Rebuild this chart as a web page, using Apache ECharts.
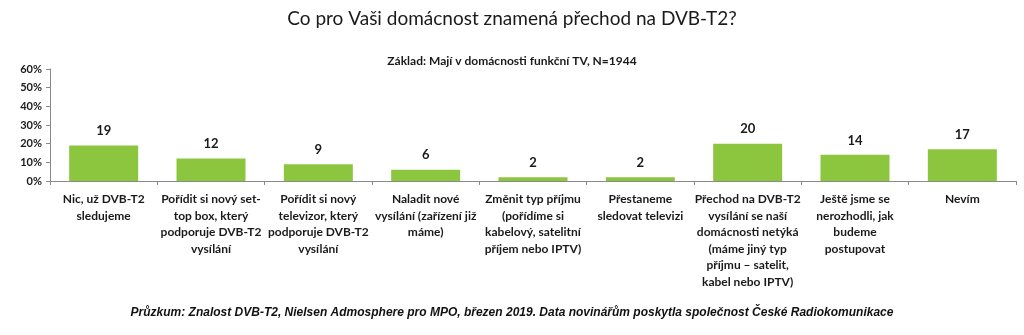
<!DOCTYPE html>
<html><head><meta charset="utf-8">
<script src="https://cdn.jsdelivr.net/npm/echarts@6/dist/echarts.min.js"></script>
<style>html,body{margin:0;padding:0;background:#fff}#c{width:1024px;height:335px}</style>
</head><body><div id="c"></div>
<script>
const titleText = 'Co pro Vaši domácnost znamená přechod na DVB-T2?';
const subtitleText = 'Základ: Mají v domácnosti funkční TV, N=1944';
const footerText = 'Průzkum: Znalost DVB-T2, Nielsen Admosphere pro MPO, březen 2019. Data novinářům poskytla společnost České Radiokomunikace';
const categories = [
  'Nic, už DVB-T2\nsledujeme',
  'Pořídit si nový set-\ntop box, který\npodporuje DVB-T2\nvysílání',
  'Pořídit si nový\ntelevizor, který\npodporuje DVB-T2\nvysílání',
  'Naladit nové\nvysílání (zařízení již\nmáme)',
  'Změnit typ příjmu\n(pořídíme si\nkabelový, satelitní\npříjem nebo IPTV)',
  'Přestaneme\nsledovat televizi',
  'Přechod na DVB-T2\nvysílání se naší\ndomácnosti netýká\n(máme jiný typ\npříjmu – satelit,\nkabel nebo IPTV)',
  'Ještě jsme se\nnerozhodli, jak\nbudeme\npostupovat',
  'Nevím'
];
const values = [19, 12, 9, 6, 2, 2, 20, 14, 17];
const yTicks = [0, 10, 20, 30, 40, 50, 60];

const chart = echarts.init(document.getElementById('c'));
chart.setOption({
  animation: false,
  title: [
    {text: titleText, left: 'center', top: 4,
     textStyle: {fontFamily: 'Lato', fontWeight: 'normal', fontSize: 19, color: '#1a1a1a'}},
    {text: subtitleText, left: 'center', top: 50,
     textStyle: {fontFamily: 'Lato', fontWeight: 'bold', fontSize: 12, color: '#1a1a1a'}},
    {text: footerText, left: 'center', top: 302,
     textStyle: {fontFamily: 'Liberation Sans', fontStyle: 'italic', fontWeight: 'bold', fontSize: 12, color: '#111'}}
  ],
  grid: {left: 50, right: 8, top: 69, bottom: 154, containLabel: false},
  xAxis: {
    type: 'category', data: categories,
    axisLine: {lineStyle: {color: '#8a8a8a'}},
    axisTick: {show: true, length: 4, lineStyle: {color: '#8a8a8a'}},
    axisLabel: {interval: 0, fontFamily: 'Lato', fontWeight: 'bold', fontSize: 12, color: '#1a1a1a', lineHeight: 16.5, margin: 10}
  },
  yAxis: {
    type: 'value', min: yTicks[0], max: yTicks[yTicks.length-1], interval: 10,
    splitLine: {show: false},
    axisLine: {show: true, lineStyle: {color: '#8a8a8a'}},
    axisTick: {show: true, length: 4, lineStyle: {color: '#8a8a8a'}},
    axisLabel: {formatter: '{value}%', fontFamily: 'Lato', fontWeight: 'bold', fontSize: 11, color: '#1a1a1a', margin: 8}
  },
  series: [{
    type: 'bar', data: values, barWidth: 69,
    itemStyle: {color: '#8cc63f'},
    label: {show: true, position: 'top', distance: 8, fontFamily: 'Lato', fontWeight: 'bold', fontSize: 13, color: '#1a1a1a'}
  }]
});
</script></body></html>
